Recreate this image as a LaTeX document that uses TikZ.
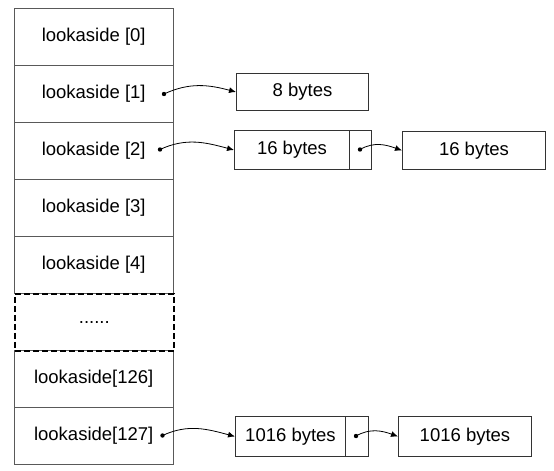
\documentclass[tikz,border=0pt]{standalone}
\usepackage{fontspec}
\setmainfont{Liberation Sans}
\usetikzlibrary{arrows.meta}
\begin{document}
\begin{tikzpicture}[x=1pt,y=-1pt,
  txt/.style={font=\fontsize{18.5}{21}\selectfont},
  cell/.style={txt, minimum width=159pt, minimum height=57pt, inner sep=0pt, anchor=north west},
  colline/.style={draw=black!65, line width=1pt},
  dashcell/.style={cell, draw=black, line width=1.6pt, dash pattern=on 6pt off 3pt},
  box/.style={txt, draw=black!80, line width=1pt, inner sep=0pt, anchor=north west},
  dotmark/.style={fill=black},
  arr/.style={draw=black, line width=0.8pt, -{Latex[length=7pt,width=6pt]}}
]
\useasboundingbox (0,0) rectangle (554,471);
% column cells
\node[cell] (r0) at (14,8) {lookaside [0]};
\node[cell] (r1) at (14,65) {lookaside [1]};
\node[cell] (r2) at (14,122) {lookaside [2]};
\node[cell] (r3) at (14,179) {lookaside [3]};
\node[cell] (r4) at (14,236) {lookaside [4]};
\node[cell] (r126) at (14,350) {lookaside[126]};
\node[cell] (r127) at (14,407) {lookaside[127]};
% column outlines
\draw[colline] (r0.north west) rectangle (r4.south east);
\draw[colline] (r0.south west) -- (r0.south east);
\draw[colline] (r1.south west) -- (r1.south east);
\draw[colline] (r2.south west) -- (r2.south east);
\draw[colline] (r3.south west) -- (r3.south east);
\draw[colline] (r126.north west) rectangle (r127.south east);
\draw[colline] (r126.south west) -- (r126.south east);
% dashed ellipsis cell
\node[dashcell] (rdots) at (14,293) {......};
% right boxes
\node[box, minimum width=132pt, minimum height=37pt] (b8) at (236,73) {8 bytes};
\node[box, minimum width=115pt, minimum height=39pt] (b16a) at (234,130) {16 bytes};
\node[box, minimum width=22pt, minimum height=39pt] (p16) at (349,130) {};
\node[box, minimum width=143pt, minimum height=38pt] (b16b) at (402,131) {16 bytes};
\node[box, minimum width=110pt, minimum height=40pt] (b1016a) at (235,416) {1016 bytes};
\node[box, minimum width=23pt, minimum height=40pt] (p1016) at (345,416) {};
\node[box, minimum width=133pt, minimum height=40pt] (b1016b) at (398,416) {1016 bytes};
% pointer dots
\coordinate (d1) at (164,94);
\coordinate (d2) at (160,149.5);
\coordinate (d3) at (360,149.5);
\coordinate (d127) at (162.5,435.5);
\coordinate (d4) at (356,436);
\foreach \d in {d1,d2,d3,d127,d4} \fill[dotmark] (\d) circle (2.2pt);
% arrows
\draw[arr] (d1) to[out=25,in=165] (b8.west);
\draw[arr] (d2) to[out=25,in=165] (b16a.west);
\draw[arr] (d3) to[out=30,in=160] (b16b.west);
\draw[arr] (d127) to[out=25,in=165] (b1016a.west);
\draw[arr] (d4) to[out=30,in=160] (b1016b.west);
\end{tikzpicture}
\end{document}
